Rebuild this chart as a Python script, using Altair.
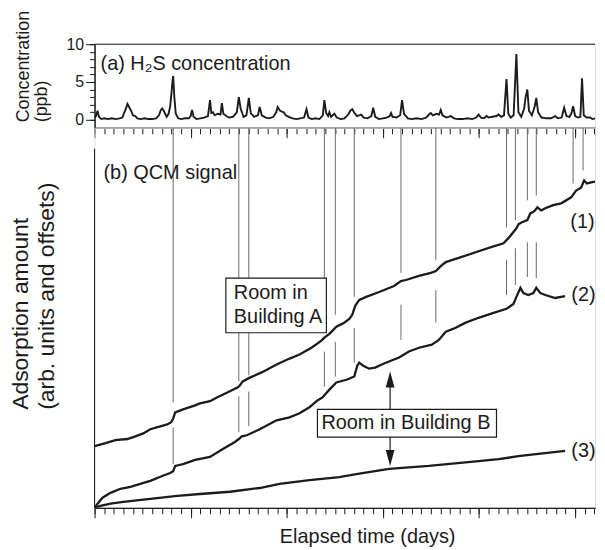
import altair as alt
import pandas as pd

FONT = "Liberation Sans"
INK = "#1b1b1b"
GREY = "#6a6a6a"

X_MAX = 52.07
H2S_MIN, H2S_MAX = -1.05, 10.0
QCM_MAX = 10.16

# (a) H2S concentration: (elapsed day, ppb)
h2s = [(0.0,0.3),(0.15,0.5),(0.31,1.2),(0.45,0.4),(0.7,0.1),(1.0,0.2),(1.4,0.1),(1.8,0.2),(2.2,0.1),(2.6,0.2),
       (2.9,0.3),(3.1,1.0),(3.3,1.6),(3.42,2.1),(3.6,1.7),(3.8,1.2),(4.0,0.6),(4.24,0.5),(4.45,0.2),(4.8,0.1),
       (5.2,0.2),(5.6,0.1),(6.0,0.1),(6.4,0.2),(6.7,0.6),(6.9,1.3),(7.04,1.5),(7.2,1.2),(7.5,0.4),(7.7,0.8),
       (7.87,1.8),(8.0,3.5),(8.1,5.0),(8.18,5.8),(8.3,3.0),(8.45,0.8),(8.7,0.2),(9.0,0.1),(9.4,0.2),(9.8,0.2),
       (10.0,0.5),(10.14,1.3),(10.3,0.4),(10.6,0.1),(11.0,0.2),(11.4,0.3),(11.8,0.5),(12.01,2.6),(12.15,0.9),(12.32,1.0),
       (12.5,0.6),(12.8,0.8),(13.1,0.7),(13.25,2.2),(13.4,0.8),(13.7,0.5),(14.0,0.3),(14.4,0.4),(14.8,1.0),(15.01,3.0),
       (15.2,1.5),(15.5,0.4),(15.8,0.6),(16.05,2.9),(16.25,0.9),(16.6,0.4),(17.0,0.6),(17.18,1.7),(17.4,0.6),(17.8,0.3),
       (18.2,0.2),(18.6,0.4),(18.9,1.0),(19.05,1.7),(19.3,1.2),(19.67,1.0),(19.9,0.6),(20.2,0.4),(20.6,0.2),(21.0,0.1),
       (21.4,0.2),(21.8,0.3),(22.05,1.4),(22.25,0.3),(22.6,0.1),(23.0,0.2),(23.4,0.1),(23.75,0.6),(23.91,2.6),(24.1,0.9),
       (24.3,0.5),(24.43,1.0),(24.6,0.4),(24.95,0.8),(25.2,0.3),(25.6,0.1),(26.0,0.2),(26.4,0.7),(26.6,1.2),(26.81,1.4),
       (27.0,1.0),(27.3,0.5),(27.74,0.7),(28.0,0.3),(28.4,0.2),(28.8,0.5),(28.99,1.6),(29.2,0.4),(29.6,0.1),(30.0,0.2),
       (30.4,0.3),(30.7,0.5),(30.85,0.9),(31.0,0.4),(31.4,0.3),(31.8,0.6),(31.99,2.6),(32.2,0.8),(32.6,0.2),(33.0,0.1),
       (33.5,0.2),(34.0,0.1),(34.5,0.3),(34.8,0.7),(34.99,0.9),(35.2,0.6),(35.6,0.8),(35.85,0.7),(36.02,1.3),(36.2,0.6),
       (36.6,0.3),(37.06,0.5),(37.4,0.2),(37.8,0.1),(38.3,0.1),(38.8,0.2),(39.3,0.1),(39.7,0.3),(39.96,0.7),(40.2,0.3),
       (40.5,0.2),(40.79,0.5),(41.0,0.3),(41.4,0.4),(41.8,0.5),(42.03,0.7),(42.3,0.4),(42.6,0.6),(42.86,5.4),(43.05,0.8),
       (43.3,0.3),(43.6,0.6),(43.89,8.7),(44.1,1.0),(44.4,0.4),(44.7,1.5),(44.85,3.0),(45.03,4.0),(45.2,1.2),(45.5,0.6),
       (45.8,1.8),(45.96,2.9),(46.15,1.0),(46.5,0.3),(47.0,0.2),(47.5,0.2),(47.93,0.5),(48.2,0.2),(48.6,0.3),(48.86,1.6),
       (49.1,0.5),(49.4,0.4),(49.6,0.8),(49.79,1.8),(50.0,0.5),(50.3,0.3),(50.55,0.4),(50.72,5.5),(50.9,0.6),(51.2,0.3),
       (51.55,0.3),(51.8,0.1),(52.07,0.2)]

# (b) QCM signals: (elapsed day, adsorption amount, arb. units with offsets)
curve1 = [(0,1.65),(1.14,1.73),(2.17,1.81),(3.42,1.84),(4.24,1.91),(5.07,1.99),(5.80,2.10),(6.83,2.18),(7.56,2.23),
          (7.97,2.29),(8.18,2.39),(8.39,2.55),(9.21,2.63),(10.46,2.74),(10.97,2.79),(12.01,2.85),(12.73,2.95),(13.87,3.09),
          (14.91,3.22),(15.11,3.27),(15.42,3.38),(16.15,3.48),(17.39,3.62),(18.94,3.83),(20.29,3.99),(21.33,4.10),(22.57,4.28),
          (23.60,4.47),(23.91,4.55),(24.43,4.65),(25.16,4.84),(25.98,4.95),(26.50,5.05),(26.81,5.16),(27.12,5.40),(27.54,5.56),
          (28.26,5.64),(29.61,5.77),(31.16,5.93),(31.88,6.06),(32.40,6.09),(33.75,6.20),(34.99,6.28),(35.51,6.33),(36.02,6.46),
          (36.54,6.57),(37.89,6.68),(39.96,6.86),(41.51,6.99),(42.55,7.07),(43.06,7.21),(43.48,7.34),(43.89,7.47),(44.10,7.58),
          (44.41,7.63),(45.03,7.69),(45.34,7.87),(45.76,7.93),(46.07,8.03),(46.48,7.95),(46.89,8.01),(47.72,8.09),(48.55,8.14),
          (49.59,8.30),(50.10,8.48),(50.62,8.56),(50.93,8.75),(51.24,8.67),(51.66,8.70),(52.07,8.72)]
curve2 = [(0,0.0),(0.31,0.11),(0.83,0.27),(1.66,0.40),(2.69,0.51),(3.73,0.56),(4.76,0.64),(5.80,0.72),(7.04,0.85),
          (7.87,0.93),(8.18,0.98),(8.39,1.12),(9.21,1.17),(10.46,1.28),(12.01,1.36),(13.35,1.57),(14.60,1.76),(15.01,1.84),
          (15.32,1.91),(15.84,1.94),(17.18,2.10),(18.94,2.34),(20.29,2.42),(21.33,2.53),(22.36,2.69),(23.19,2.87),(23.71,2.95),
          (24.43,3.16),(25.16,3.35),(26.29,3.43),(27.02,3.51),(27.33,3.80),(27.54,3.88),(27.95,3.80),(28.57,3.72),(29.19,3.75),
          (30.12,3.86),(31.68,4.02),(32.71,4.18),(33.75,4.28),(35.09,4.36),(35.82,4.49),(36.54,4.71),(37.37,4.79),(38.61,4.95),
          (39.96,5.08),(41.51,5.21),(42.86,5.32),(43.58,5.45),(43.89,5.64),(44.31,5.88),(44.62,5.74),(45.13,5.69),(45.65,5.74),
          (45.96,5.88),(46.38,5.74),(46.89,5.69),(47.93,5.61),(48.55,5.64),(48.96,5.66)]
curve3 = [(0,0.0),(0.62,0.05),(1.66,0.11),(3.00,0.16),(5.80,0.24),(8.59,0.32),(10.97,0.37),(14.08,0.43),(17.18,0.53),
          (19.25,0.64),(22.36,0.74),(25.47,0.82),(27.23,0.90),(30.64,1.04),(34.78,1.12),(39.96,1.25),(42.03,1.30),(44.10,1.38),
          (46.17,1.44),(48.96,1.52)]

# H2S events marked across panel (b)
event_days = [8.18, 15.01, 16.05, 23.91, 25.05, 27.02, 31.88, 35.51, 42.86, 43.79, 45.03, 45.96, 49.79, 50.83]
upper_end = [2.82, 3.38, 3.54, 4.76, 5.16, 5.64, 6.28, 6.62, 7.50, 7.69, 8.22, 8.35, 8.67, 9.02]
lower_days = event_days[:12]
lower_top = [2.15, 2.98, 3.11, 4.18, 4.44, 4.81, 5.43, 5.82, 6.62, 6.94, 7.10, 7.10]
lower_bottom = [1.17, 2.02, 2.18, 3.24, 3.51, 3.88, 4.49, 4.95, 5.69, 5.96, 6.17, 6.14]

curve_labels = ["(1)", "(2)", "(3)"]
curve_label_day = [49.5, 49.6, 49.6]
curve_label_val = [7.63, 5.69, 1.52]

box_a = dict(x=13.66, x2=24.12, y=4.68, y2=6.14)
box_b = dict(x=23.19, x2=41.82, y=1.89, y2=2.63)
box_a_lines = ["Room in", "Building A"]
box_a_text_day = 14.49
box_a_text_val = [5.74, 5.11]
box_b_text = "Room in Building B"
box_b_text_day = 23.6
box_b_text_val = 2.26
arrow_day = 30.75
arrow_up = (2.63, 3.43)
arrow_down = (1.89, 1.33)
qcm_axis_top = 9.60

minor_days = list(range(0, 53))
major_days = [0, 10, 20, 30, 40, 50]
ppb_minor = list(range(0, 11))
ppb_major = [0, 5, 10]

W = 503
xs = alt.Scale(domain=[0, X_MAX], nice=False, zero=False)
ys_top = alt.Scale(domain=[H2S_MIN, H2S_MAX], nice=False, zero=False)
ys_bot = alt.Scale(domain=[0, QCM_MAX], nice=False, zero=False)

base_axis = dict(grid=False, tickColor=INK, domainColor=INK, tickWidth=1, domainWidth=1,
                 labelColor=INK, titleColor=INK, titleFontWeight="normal")


def x_minor():
    return alt.Axis(orient="bottom", values=minor_days, labels=False, title=None, tickSize=6, **base_axis)


def x_major(**kw):
    return alt.Axis(orient="bottom", values=major_days, labels=False, tickSize=10, **base_axis, **kw)


# ---------- top panel ----------
h2s_df = pd.DataFrame(h2s, columns=["day", "ppb"])
h2s_line = alt.Chart(h2s_df).mark_line(color=INK, strokeWidth=1.9, clip=True).encode(
    x=alt.X("day:Q", scale=xs, axis=x_minor()),
    y=alt.Y("ppb:Q", scale=ys_top, axis=alt.Axis(orient="left", values=ppb_minor, labels=False,
                                                  title=None, tickSize=5, **base_axis)),
)
label_a = alt.Chart(pd.DataFrame({"day": [0.62], "v": [7.4], "t": ["(a) H\u2082S concentration"]})).mark_text(
    align="left", baseline="middle", fontSize=20, font=FONT, color=INK).encode(
    x=alt.X("day:Q", scale=xs, axis=x_major(title=None)),
    y=alt.Y("v:Q", scale=ys_top, axis=alt.Axis(
        orient="left", values=ppb_major, tickSize=9, labelFontSize=16, labelPadding=2,
        title=["Concentration", "(ppb)"], titleFontSize=18, titleLineHeight=18,
        titleAlign="left", titleBaseline="bottom", titleX=-62, titleY=78, **base_axis)),
    text="t:N")
top_border = alt.Chart(pd.DataFrame({"v": [H2S_MAX]})).mark_rule(color=INK, strokeWidth=1).encode(
    y=alt.Y("v:Q", scale=ys_top, axis=None))
top = alt.layer(h2s_line, label_a, top_border).resolve_axis(x="independent", y="independent").properties(
    width=W, height=84)

# ---------- bottom panel ----------
rows = []
for name, pts in (("1", curve1), ("2", curve2), ("3", curve3)):
    for i, (d, v) in enumerate(pts):
        rows.append({"curve": name, "order": i, "day": d, "val": v})
curves_df = pd.DataFrame(rows)
curves = alt.Chart(curves_df).mark_line(color=INK, strokeWidth=2.3, clip=True).encode(
    x=alt.X("day:Q", scale=xs, axis=x_minor()),
    y=alt.Y("val:Q", scale=ys_bot, axis=alt.Axis(
        orient="left", labels=False, ticks=False, domain=False, grid=False,
        title=["Adsorption amount", "(arb. units and offsets)"], titleFontSize=23, titleLineHeight=26,
        titleFontWeight="normal", titleColor=INK, titleAlign="left", titleBaseline="bottom",
        titleX=-62, titleY=283)),
    detail="curve:N", order="order:Q")

txt_df = pd.DataFrame({
    "day": [box_a_text_day, box_a_text_day, box_b_text_day] + curve_label_day + [0.93],
    "val": box_a_text_val + [box_b_text_val] + curve_label_val + [8.96],
    "t": box_a_lines + [box_b_text] + curve_labels + ["(b) QCM signal"],
})

up_df = pd.DataFrame({"day": event_days, "y1": [QCM_MAX] * len(event_days), "y2": upper_end})
lo_df = pd.DataFrame({"day": lower_days, "y1": lower_top, "y2": lower_bottom})
seg_df = pd.concat([up_df, lo_df], ignore_index=True)
vlines = alt.Chart(seg_df).mark_rule(color=GREY, strokeWidth=1).encode(
    x=alt.X("day:Q", scale=xs, axis=None), y=alt.Y("y1:Q", scale=ys_bot, axis=None), y2="y2:Q")

left_axis = alt.Chart(pd.DataFrame({"day": [0], "y1": [0], "y2": [qcm_axis_top]})).mark_rule(
    color=INK, strokeWidth=1).encode(x=alt.X("day:Q", scale=xs, axis=None),
                                     y=alt.Y("y1:Q", scale=ys_bot, axis=None), y2="y2:Q")

boxes = alt.Chart(pd.DataFrame([box_a, box_b])).mark_rect(fill="white", stroke=INK, strokeWidth=1.2).encode(
    x=alt.X("x:Q", scale=xs, axis=None), x2="x2:Q", y=alt.Y("y:Q", scale=ys_bot, axis=None), y2="y2:Q")

texts = alt.Chart(txt_df).mark_text(align="left", baseline="middle", fontSize=20, font=FONT, color=INK).encode(
    x=alt.X("day:Q", scale=xs, axis=x_major(title="Elapsed time (days)", titleFontSize=20,
                                             titleX=274, titleY=29, titleBaseline="middle")),
    y=alt.Y("val:Q", scale=ys_bot, axis=None), text="t:N")

arrow_df = pd.DataFrame({"day": [arrow_day, arrow_day], "y1": [arrow_up[0], arrow_down[0]],
                         "y2": [arrow_up[1], arrow_down[1]]})
arrows = alt.Chart(arrow_df).mark_rule(color=INK, strokeWidth=1.2).encode(
    x=alt.X("day:Q", scale=xs, axis=None), y=alt.Y("y1:Q", scale=ys_bot, axis=None), y2="y2:Q")
head_up = alt.Chart(pd.DataFrame({"day": [arrow_day], "val": [arrow_up[1]]})).mark_point(
    shape="M-0.55,1L0,-1L0.55,1Z", size=256, filled=True, color=INK, opacity=1).encode(
    x=alt.X("day:Q", scale=xs, axis=None), y=alt.Y("val:Q", scale=ys_bot, axis=None))
head_down = alt.Chart(pd.DataFrame({"day": [arrow_day], "val": [arrow_down[1]]})).mark_point(
    shape="M-0.55,-1L0,1L0.55,-1Z", size=256, filled=True, color=INK, opacity=1).encode(
    x=alt.X("day:Q", scale=xs, axis=None), y=alt.Y("val:Q", scale=ys_bot, axis=None))

bottom = alt.layer(curves, vlines, left_axis, boxes, texts, arrows, head_up, head_down).resolve_axis(
    x="independent", y="independent").properties(width=W, height=382)

chart = alt.vconcat(top, bottom, spacing=0, bounds="flush").properties(
    padding={"left": 1, "top": 0, "right": 0, "bottom": 0}
).configure_view(strokeWidth=0).configure(font=FONT).configure_axis(labelFont=FONT, titleFont=FONT)

chart.save("out.html", embed_options={"renderer": "svg", "actions": False})
